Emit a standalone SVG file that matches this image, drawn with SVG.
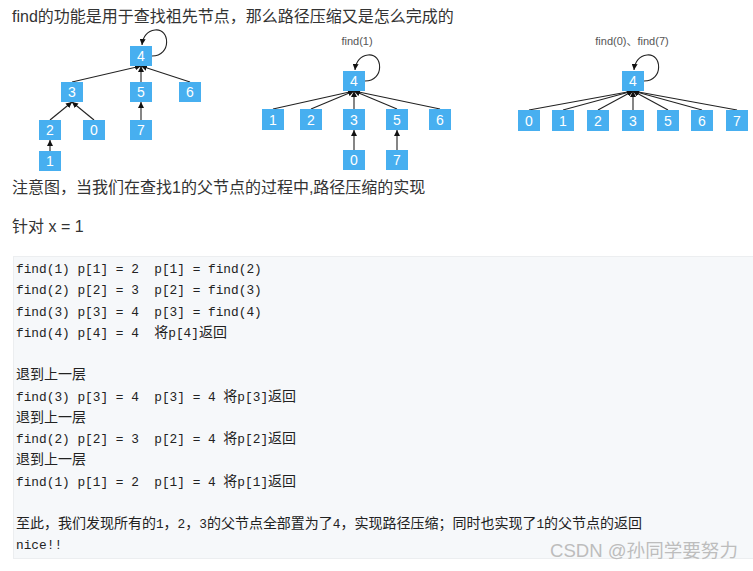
<svg xmlns="http://www.w3.org/2000/svg" width="753" height="571" viewBox="0 0 753 571">
<defs>
<marker id="ah" viewBox="0 0 10 10" refX="10" refY="5" markerWidth="6" markerHeight="6" markerUnits="userSpaceOnUse" orient="auto">
<path d="M0,0 L10,5 L0,10 z" fill="#111"/>
</marker>
<style>
.n rect{fill:#47aff0}
.n text{fill:#fff;font-family:"Liberation Sans","Noto Sans",sans-serif;font-size:14px;text-anchor:middle}
.e path{fill:none;stroke:#222;stroke-width:1.1;marker-end:url(#ah)}
.t{font-family:"Liberation Sans","Noto Sans CJK SC",sans-serif;font-size:16px;fill:#333}
.lbl{font-family:"Liberation Sans","Noto Sans CJK SC",sans-serif;font-size:11px;fill:#555;text-anchor:middle}
.c{font-family:"Liberation Mono","DejaVu Sans Mono",monospace;font-size:12.8px;fill:#222;white-space:pre}
.cj{font-family:"Noto Sans CJK SC",sans-serif;font-size:14px}
</style>
</defs>
<rect width="753" height="571" fill="#fff"/>

<text class="t" x="12" y="22">find的功能是用于查找祖先节点，那么路径压缩又是怎么完成的</text>

<!-- Tree 1 connectors -->
<g class="e" id="edges1">
<path d="M152,56 C172,56 170,28 155,30 C148,31 143,36 142,45"/>
<path d="M72,82 L141,66"/>
<path d="M141,82 L141,66"/>
<path d="M190,82 L141,66"/>
<path d="M50,120 L72,102"/>
<path d="M94,120 L72,102"/>
<path d="M141,120 L141,102"/>
<path d="M50,151 L50,140"/>
</g>
<g class="n" id="t1n4"><rect x="130" y="46" width="22" height="20"/><text x="141" y="61">4</text></g>
<g class="n" id="t1n3"><rect x="61" y="82" width="22" height="20"/><text x="72" y="97">3</text></g>
<g class="n" id="t1n5"><rect x="130" y="82" width="22" height="20"/><text x="141" y="97">5</text></g>
<g class="n" id="t1n6"><rect x="179" y="82" width="22" height="20"/><text x="190" y="97">6</text></g>
<g class="n" id="t1n2"><rect x="39" y="120" width="22" height="20"/><text x="50" y="135">2</text></g>
<g class="n" id="t1n0"><rect x="83" y="120" width="22" height="20"/><text x="94" y="135">0</text></g>
<g class="n" id="t1n7"><rect x="130" y="120" width="22" height="20"/><text x="141" y="135">7</text></g>
<g class="n" id="t1n1"><rect x="39" y="151" width="22" height="20"/><text x="50" y="166">1</text></g>

<!-- Tree 2 -->
<text class="lbl" x="357" y="45">find(1)</text>
<g class="e" id="edges2">
<path d="M365,81 C385,81 383,53 368,55 C361,56 356,61 355,70"/>
<path d="M273,109 L354,91"/>
<path d="M311,109 L354,91"/>
<path d="M354,109 L354,91"/>
<path d="M397,109 L354,91"/>
<path d="M440,109 L354,91"/>
<path d="M354,150 L354,130"/>
<path d="M397,150 L397,130"/>
</g>
<g class="n" id="t2n4"><rect x="343" y="71" width="22" height="20"/><text x="354" y="86">4</text></g>
<g class="n" id="t2n1"><rect x="262" y="109" width="22" height="21"/><text x="273" y="125">1</text></g>
<g class="n" id="t2n2"><rect x="300" y="109" width="22" height="21"/><text x="311" y="125">2</text></g>
<g class="n" id="t2n3"><rect x="343" y="109" width="22" height="21"/><text x="354" y="125">3</text></g>
<g class="n" id="t2n5"><rect x="386" y="109" width="22" height="21"/><text x="397" y="125">5</text></g>
<g class="n" id="t2n6"><rect x="429" y="109" width="22" height="21"/><text x="440" y="125">6</text></g>
<g class="n" id="t2n0"><rect x="343" y="150" width="22" height="20"/><text x="354" y="165">0</text></g>
<g class="n" id="t2n7"><rect x="386" y="150" width="22" height="20"/><text x="397" y="165">7</text></g>

<!-- Tree 3 -->
<text class="lbl" x="632" y="45">find(0)、find(7)</text>
<g class="e" id="edges3">
<path d="M644,81 C664,81 662,53 647,55 C640,56 635,61 634,70"/>
<path d="M529,110 L633,91"/>
<path d="M563,110 L633,91"/>
<path d="M598,110 L633,91"/>
<path d="M633,110 L633,91"/>
<path d="M668,110 L633,91"/>
<path d="M702,110 L633,91"/>
<path d="M737,110 L633,91"/>
</g>
<g class="n" id="t3n4"><rect x="622" y="71" width="22" height="20"/><text x="633" y="86">4</text></g>
<g class="n" id="t3n0"><rect x="518" y="110" width="22" height="21"/><text x="529" y="126">0</text></g>
<g class="n" id="t3n1"><rect x="552" y="110" width="22" height="21"/><text x="563" y="126">1</text></g>
<g class="n" id="t3n2"><rect x="587" y="110" width="22" height="21"/><text x="598" y="126">2</text></g>
<g class="n" id="t3n3"><rect x="622" y="110" width="22" height="21"/><text x="633" y="126">3</text></g>
<g class="n" id="t3n5"><rect x="657" y="110" width="22" height="21"/><text x="668" y="126">5</text></g>
<g class="n" id="t3n6"><rect x="691" y="110" width="22" height="21"/><text x="702" y="126">6</text></g>
<g class="n" id="t3n7"><rect x="726" y="110" width="22" height="21"/><text x="737" y="126">7</text></g>

<text class="t" x="12" y="193">注意图，当我们在查找1的父节点的过程中,路径压缩的实现</text>
<text class="t" x="12" y="232">针对 x = 1</text>

<!-- code block -->
<rect x="13.5" y="256.5" width="745" height="302" fill="#f6f8fa" stroke="#eceef0"/>
<text class="c" x="16" y="273">find(1) p[1] = 2  p[1] = find(2)</text>
<text class="c" x="16" y="294.25">find(2) p[2] = 3  p[2] = find(3)</text>
<text class="c" x="16" y="315.5">find(3) p[3] = 4  p[3] = find(4)</text>
<text class="c" x="16" y="336.75">find(4) p[4] = 4  <tspan class="cj">将</tspan>p[4]<tspan class="cj">返回</tspan></text>
<text class="c" x="16" y="379.25"><tspan class="cj">退到上一层</tspan></text>
<text class="c" x="16" y="400.5">find(3) p[3] = 4  p[3] = 4 <tspan class="cj">将</tspan>p[3]<tspan class="cj">返回</tspan></text>
<text class="c" x="16" y="421.75"><tspan class="cj">退到上一层</tspan></text>
<text class="c" x="16" y="443">find(2) p[2] = 3  p[2] = 4 <tspan class="cj">将</tspan>p[2]<tspan class="cj">返回</tspan></text>
<text class="c" x="16" y="464.25"><tspan class="cj">退到上一层</tspan></text>
<text class="c" x="16" y="485.5">find(1) p[1] = 2  p[1] = 4 <tspan class="cj">将</tspan>p[1]<tspan class="cj">返回</tspan></text>
<text class="c" x="16" y="528" textLength="626" lengthAdjust="spacing"><tspan class="cj">至此，我们发现所有的</tspan>1<tspan class="cj">，</tspan>2<tspan class="cj">，</tspan>3<tspan class="cj">的父节点全部置为了</tspan>4<tspan class="cj">，实现路径压缩；同时也实现了</tspan>1<tspan class="cj">的父节点的返回</tspan></text>
<text class="c" x="16" y="549.25">nice!!</text>

<text x="550" y="557" font-family="Liberation Sans,'Noto Sans CJK SC',sans-serif" font-size="18" fill="#bdbdbd" textLength="188" lengthAdjust="spacingAndGlyphs">CSDN @孙同学要努力</text>
</svg>
